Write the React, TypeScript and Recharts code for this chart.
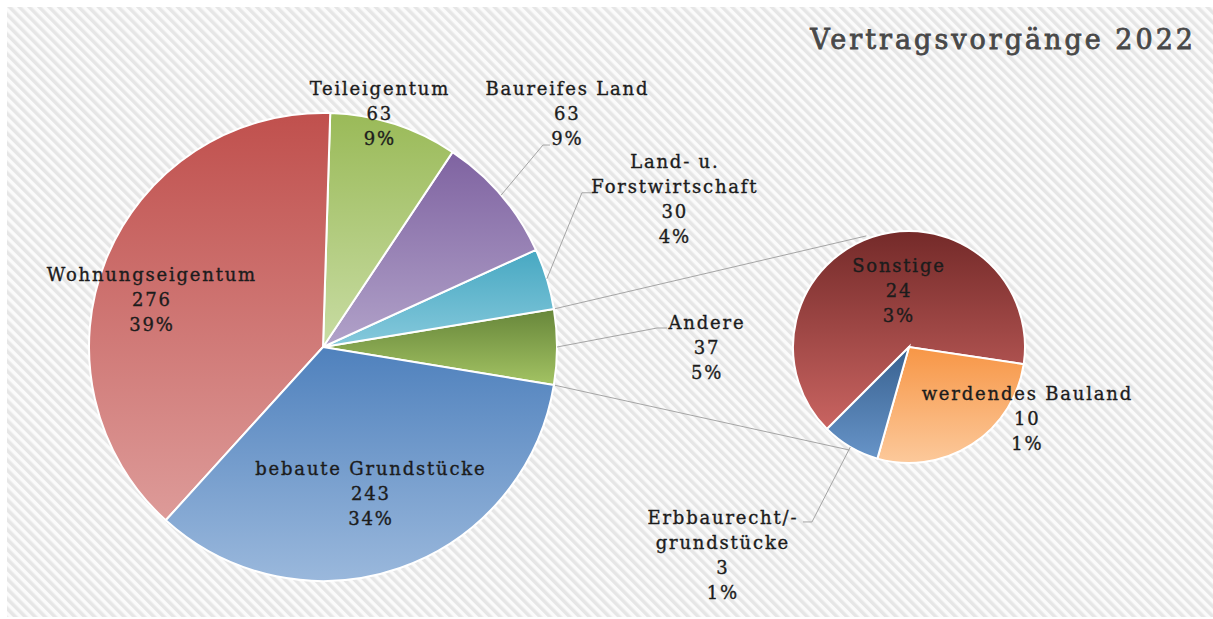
import { PieChart, Pie, Cell } from "recharts";

// Hauptkreis (gegen den Uhrzeigersinn ab "Andere")
const mainNames = ["Andere", "Land- u.\nForstwirtschaft", "Baureifes Land", "Teileigentum", "Wohnungseigentum", "bebaute Grundstücke"];
const mainValues = [37, 30, 63, 63, 276, 243];
const mainPercents = ["5%", "4%", "9%", "9%", "39%", "34%"];

// Aufteilung von "Andere"
const otherNames = ["Sonstige", "werdendes Bauland", "Erbbaurecht/-\ngrundstücke"];
const otherValues = [24, 10, 3];
const otherPercents = ["3%", "1%", "1%"];

const mainColors = [
  ["#67863a", "#a3c363"],
  ["#47a8c2", "#86c9dc"],
  ["#7f63a1", "#b1a2c9"],
  ["#9aba58", "#c8dca3"],
  ["#c0504d", "#dd9b99"],
  ["#4f81bd", "#9ab8dc"],
];
const otherColors = [
  ["#742a29", "#c96461"],
  ["#f79646", "#fcc99b"],
  ["#386190", "#6794c8"],
];

type Place = { k: number; turn: number; leader?: [number, number, number] };

const mainPlace: Place[] = [
  { k: 1.637, turn: 0, leader: [-49, -19, 10] },
  { k: 1.628, turn: 5.96, leader: [-92, -6, 11] },
  { k: 1.443, turn: 3.41, leader: [-23.5, 32, 7] },
  { k: 1.028, turn: 4.24 },
  { k: 0.762, turn: 6.7 },
  { k: 0.659, turn: -1.47 },
];
const otherPlace: Place[] = [
  { k: 0.5, turn: -7.35 },
  { k: 1.183, turn: 26 },
  { k: 2.411, turn: -11.56, leader: [90, -33, -9] },
];

const W = 1213;
const H = 619;
const FONT = "'DejaVu Serif', serif";
const RAD = Math.PI / 180;

const MAIN = { cx: 323, cy: 347, r: 234 };
const SUB = { cx: 909, cy: 347, r: 116 };
const CONNECT_ANGLES = [111, -120];

const total = mainValues.reduce((a, b) => a + b, 0);
const mainStart = -(mainValues[0] / total) * 180;

const makeLabel = (names: string[], values: number[], pcts: string[], place: Place[]) => (props: any) => {
  const { cx, cy, midAngle, outerRadius, index } = props;
  const p = place[index];
  const a = (midAngle + p.turn) * RAD;
  const x = cx + outerRadius * p.k * Math.cos(a);
  const y = cy - outerRadius * p.k * Math.sin(a);
  const lines = [...names[index].split("\n"), String(values[index]), pcts[index]];
  const lh = 25;
  const y0 = y - ((lines.length - 1) * lh) / 2;
  let leader = null;
  if (p.leader) {
    const sx = cx + outerRadius * Math.cos(midAngle * RAD);
    const sy = cy - outerRadius * Math.sin(midAngle * RAD);
    const ex = x + p.leader[0];
    const ey = y + p.leader[1];
    leader = (
      <polyline
        points={`${sx},${sy} ${ex},${ey} ${ex + p.leader[2]},${ey}`}
        fill="none"
        stroke="#a5a5a5"
        strokeWidth={1}
      />
    );
  }
  return (
    <g key={`lbl-${index}`}>
      {leader}
      <text
        textAnchor="middle"
        fontFamily={FONT}
        fontSize={18}
        letterSpacing={1.8}
        fill="#1c1c1c"
        stroke="#1c1c1c"
        strokeWidth={0.35}
      >
        {lines.map((l, i) => (
          <tspan key={i} x={x + 0.9} y={y0 + i * lh} dominantBaseline="central">
            {l}
          </tspan>
        ))}
      </text>
    </g>
  );
};

const corner = (c: { cx: number; cy: number }, r: number, deg: number) => [
  c.cx + r * Math.cos(deg * RAD),
  c.cy - r * Math.sin(deg * RAD),
];

export default function App() {
  const mainData = mainNames.map((name, i) => ({ name, value: mainValues[i] }));
  const otherData = otherNames.map((name, i) => ({ name, value: otherValues[i] }));

  const [t1x, t1y] = corner(MAIN, MAIN.r, -mainStart);
  const [b1x, b1y] = corner(MAIN, MAIN.r, mainStart);
  const [t2x, t2y] = corner(SUB, SUB.r + 3, CONNECT_ANGLES[0]);
  const [b2x, b2y] = corner(SUB, SUB.r + 3, CONNECT_ANGLES[1]);

  return (
    <div style={{ position: "absolute", left: 0, top: 0, width: W, height: H, background: "#fff" }}>
      <svg width={W} height={H} style={{ position: "absolute", left: 0, top: 0 }}>
        <defs>
          <pattern id="hatch" width="7" height="7" patternUnits="userSpaceOnUse" patternTransform="rotate(-45)">
            <rect width="7" height="7" fill="#fbfbfb" />
            <rect width="3.5" height="7" fill="#e6e6e6" />
          </pattern>
        </defs>
        <rect x={7} y={7} width={W - 7} height={H - 9} fill="url(#hatch)" />
        <line x1={t1x} y1={t1y} x2={t2x} y2={t2y} stroke="#a5a5a5" strokeWidth={1} />
        <line x1={b1x} y1={b1y} x2={b2x} y2={b2y} stroke="#a5a5a5" strokeWidth={1} />
        <text
          x={1196}
          y={49}
          textAnchor="end"
          fontFamily={FONT}
          fontSize={27}
          letterSpacing={3}
          fill="#484848"
          stroke="#484848"
          strokeWidth={0.8}
        >
          Vertragsvorgänge 2022
        </text>
      </svg>
      <div style={{ position: "absolute", left: 0, top: 0 }}>
        <PieChart width={W} height={H} margin={{ top: 0, right: 0, bottom: 0, left: 0 }}>
          <defs>
            {[...mainColors, ...otherColors].map((c, i) => (
              <linearGradient key={i} id={`grad-${i}`} x1="0" y1="0" x2="0" y2="1">
                <stop offset="0%" stopColor={c[0]} />
                <stop offset="100%" stopColor={c[1]} />
              </linearGradient>
            ))}
          </defs>
          <Pie
            data={mainData}
            dataKey="value"
            cx={MAIN.cx}
            cy={MAIN.cy}
            outerRadius={MAIN.r}
            startAngle={mainStart}
            endAngle={mainStart + 360}
            stroke="#fff"
            strokeWidth={2}
            labelLine={false}
            label={makeLabel(mainNames, mainValues, mainPercents, mainPlace)}
            isAnimationActive={false}
          >
            {mainData.map((_, i) => (
              <Cell key={i} fill={`url(#grad-${i})`} />
            ))}
          </Pie>
          <Pie
            data={otherData}
            dataKey="value"
            cx={SUB.cx}
            cy={SUB.cy}
            outerRadius={SUB.r}
            startAngle={225}
            endAngle={-135}
            stroke="#fff"
            strokeWidth={2}
            labelLine={false}
            label={makeLabel(otherNames, otherValues, otherPercents, otherPlace)}
            isAnimationActive={false}
          >
            {otherData.map((_, i) => (
              <Cell key={i} fill={`url(#grad-${i + mainColors.length})`} />
            ))}
          </Pie>
        </PieChart>
      </div>
    </div>
  );
}
